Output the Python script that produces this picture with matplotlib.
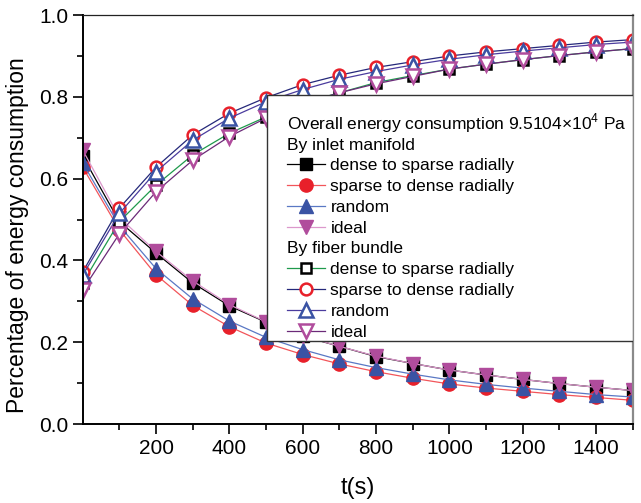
import matplotlib
matplotlib.use("Agg")
import matplotlib.pyplot as plt
from matplotlib.patches import Rectangle
from matplotlib.ticker import MultipleLocator, FixedLocator, FormatStrFormatter

plt.rcParams['font.family'] = ['Liberation Sans', 'DejaVu Sans']
plt.rcParams['mathtext.fontset'] = 'custom'
plt.rcParams['mathtext.rm'] = 'Liberation Sans'

t = [0, 100, 200, 300, 400, 500, 600, 700, 800, 900, 1000, 1100, 1200, 1300, 1400, 1500]

# share of energy consumed by the inlet manifold
inlet_d2s = [0.655, 0.495, 0.418, 0.345, 0.289, 0.249, 0.215, 0.190, 0.165, 0.148, 0.132, 0.120, 0.109, 0.099, 0.090, 0.082]
inlet_s2d = [0.628, 0.475, 0.365, 0.290, 0.238, 0.198, 0.170, 0.147, 0.128, 0.112, 0.098, 0.088, 0.080, 0.072, 0.065, 0.058]
inlet_rand = [0.638, 0.485, 0.380, 0.306, 0.252, 0.212, 0.182, 0.157, 0.138, 0.122, 0.108, 0.097, 0.088, 0.080, 0.072, 0.066]
inlet_ideal = [0.670, 0.505, 0.422, 0.350, 0.292, 0.250, 0.216, 0.190, 0.166, 0.148, 0.132, 0.120, 0.109, 0.099, 0.090, 0.082]

# share of energy consumed by the fiber bundle
fiber_d2s = [0.345, 0.495, 0.584, 0.658, 0.711, 0.751, 0.785, 0.810, 0.835, 0.852, 0.868, 0.880, 0.891, 0.901, 0.910, 0.918]
fiber_s2d = [0.372, 0.528, 0.628, 0.707, 0.760, 0.798, 0.830, 0.853, 0.872, 0.886, 0.900, 0.910, 0.918, 0.926, 0.934, 0.940]
fiber_rand = [0.364, 0.515, 0.617, 0.694, 0.748, 0.788, 0.818, 0.843, 0.862, 0.878, 0.892, 0.903, 0.912, 0.920, 0.928, 0.934]
fiber_ideal = [0.328, 0.465, 0.568, 0.645, 0.703, 0.748, 0.783, 0.810, 0.832, 0.850, 0.868, 0.880, 0.891, 0.901, 0.910, 0.918]

labels = ['dense to sparse radially', 'sparse to dense radially', 'random', 'ideal']

fig = plt.figure(figsize=(6.41, 5.03), dpi=100)
ax = fig.add_axes([0.129, 0.157, 0.858, 0.813])

ms = 9.5
# inlet manifold: filled markers
h1 = []
h1 += ax.plot(t, inlet_d2s, '-', color='black', lw=0.9, marker='s', ms=ms-0.5, mfc='black', mec='black')
h1 += ax.plot(t, inlet_s2d, '-', color='#f2555a', lw=0.9, marker='o', ms=ms, mfc='#e8202a', mec='#e8202a')
h1 += ax.plot(t, inlet_rand, '-', color='#5a78c4', lw=0.9, marker='^', ms=ms+0.5, mfc='#3a53a4', mec='#3a53a4')
h1 += ax.plot(t, inlet_ideal, '-', color='#dc98cc', lw=0.9, marker='v', ms=ms+0.5, mfc='#b04c9c', mec='#b04c9c')

# fiber bundle: open markers
h2 = []
h2 += ax.plot(t, fiber_d2s, '-', color='#1f9a4c', lw=0.9, marker='s', ms=ms-2, mfc='white', mec='black', mew=1.8)
h2 += ax.plot(t, fiber_s2d, '-', color='#25287a', lw=0.9, marker='o', ms=ms-1, mfc='white', mec='#e8202a', mew=1.8)
h2 += ax.plot(t, fiber_rand, '-', color='#4b3c9e', lw=0.9, marker='^', ms=ms, mfc='white', mec='#3a53a4', mew=1.8)
h2 += ax.plot(t, fiber_ideal, '-', color='#6b2a78', lw=0.9, marker='v', ms=ms, mfc='white', mec='#b04c9c', mew=1.8)

ax.set_xlim(0, 1500)
ax.set_ylim(0, 1.0)
ax.xaxis.set_major_locator(FixedLocator([200, 400, 600, 800, 1000, 1200, 1400]))
ax.xaxis.set_minor_locator(FixedLocator([100, 300, 500, 700, 900, 1100, 1300, 1500]))
ax.yaxis.set_major_locator(MultipleLocator(0.2))
ax.yaxis.set_minor_locator(MultipleLocator(0.1))
ax.yaxis.set_major_formatter(FormatStrFormatter('%.1f'))
ax.tick_params(which='major', direction='out', length=7.5, width=1.2, labelsize=15, pad=3)
ax.tick_params(which='minor', direction='out', length=4, width=1.2)

for s in ['left', 'bottom']:
    ax.spines[s].set_linewidth(1.4)
ax.spines['top'].set_color('#222222')
ax.spines['top'].set_linewidth(0.9)
ax.spines['right'].set_color('#8a8a8a')
ax.spines['right'].set_linewidth(1.6)

ax.set_xlabel('t(s)', fontsize=17, labelpad=14)
ax.set_ylabel('Percentage of energy consumption', fontsize=16.5)
ax.yaxis.set_label_coords(-0.097, 0.461)

# legend box with two groups
box = Rectangle((0.335, 0.203), 0.665, 0.601, transform=ax.transAxes,
                facecolor='white', edgecolor='#333333', lw=1.0, zorder=5)
ax.add_patch(box)

kw = dict(loc='upper left', frameon=False, fontsize=12.5, borderpad=0, borderaxespad=0,
          handlelength=2.2, handletextpad=0.3, labelspacing=0.33, alignment='left')
leg1 = ax.legend(h1, labels, bbox_to_anchor=(0.3716, 0.764),
                 title='Overall energy consumption 9.5104×10$^4$ Pa\nBy inlet manifold',
                 title_fontsize=12.5, **kw)
leg1.set_zorder(6)
ax.add_artist(leg1)
leg2 = ax.legend(h2, labels, bbox_to_anchor=(0.3716, 0.447),
                 title='By fiber bundle', title_fontsize=12.5, **kw)
leg2.set_zorder(6)

fig.savefig('out.png', dpi=100)
